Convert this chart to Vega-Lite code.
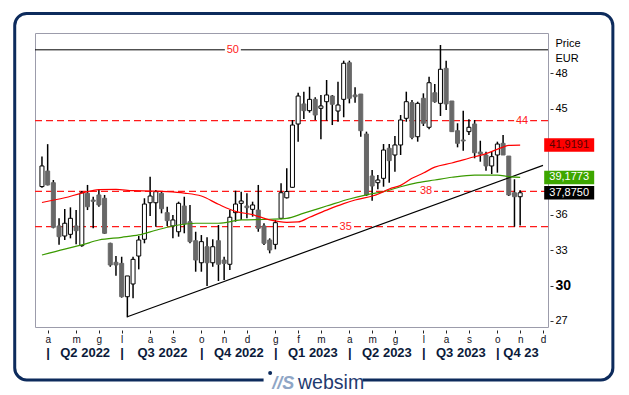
{
  "$schema": "https://vega.github.io/schema/vega-lite/v6.json",
  "width": 513,
  "height": 294,
  "autosize": {"type": "none"},
  "padding": {"left": 35, "top": 33, "right": 81, "bottom": 68},
  "background": "white",
  "config": {
    "font": "Liberation Sans",
    "view": {"stroke": "#9c9cab", "strokeWidth": 1},
    "axis": {"grid": false}
  },
  "datasets": {
    "candles": [
      {"d":"2022-03-25","o":38.4,"h":40.95,"l":38.3,"c":40.15},
      {"d":"2022-04-01","o":39.72,"h":42.0,"l":38.5,"c":38.54},
      {"d":"2022-04-08","o":38.73,"h":38.96,"l":34.86,"c":34.95},
      {"d":"2022-04-15","o":35.06,"h":35.71,"l":33.47,"c":34.15},
      {"d":"2022-04-22","o":34.21,"h":36.5,"l":33.87,"c":35.29},
      {"d":"2022-04-29","o":34.35,"h":36.64,"l":34.01,"c":35.71},
      {"d":"2022-05-06","o":35.06,"h":36.41,"l":33.5,"c":34.66},
      {"d":"2022-05-13","o":33.39,"h":38.03,"l":33.3,"c":37.88},
      {"d":"2022-05-20","o":37.83,"h":38.54,"l":36.41,"c":36.69},
      {"d":"2022-05-27","o":37.26,"h":37.54,"l":34.86,"c":37.15},
      {"d":"2022-06-03","o":37.69,"h":38.17,"l":36.69,"c":36.84},
      {"d":"2022-06-10","o":37.41,"h":37.69,"l":34.38,"c":34.44},
      {"d":"2022-06-17","o":33.59,"h":33.64,"l":31.6,"c":31.75},
      {"d":"2022-06-24","o":31.98,"h":32.51,"l":30.84,"c":31.75},
      {"d":"2022-07-01","o":31.89,"h":32.45,"l":28.98,"c":29.06},
      {"d":"2022-07-08","o":29.06,"h":30.82,"l":27.31,"c":30.82},
      {"d":"2022-07-15","o":30.14,"h":32.45,"l":28.92,"c":32.23},
      {"d":"2022-07-22","o":32.51,"h":34.21,"l":31.38,"c":33.87},
      {"d":"2022-07-29","o":33.93,"h":37.41,"l":33.59,"c":36.92},
      {"d":"2022-08-05","o":37.03,"h":39.24,"l":35.91,"c":37.6},
      {"d":"2022-08-12","o":37.03,"h":38.11,"l":35.0,"c":37.97},
      {"d":"2022-08-19","o":37.83,"h":37.97,"l":36.13,"c":36.52},
      {"d":"2022-08-26","o":36.19,"h":36.69,"l":35.06,"c":35.51},
      {"d":"2022-09-02","o":35.06,"h":35.99,"l":34.01,"c":35.57},
      {"d":"2022-09-09","o":34.57,"h":37.12,"l":34.15,"c":36.98},
      {"d":"2022-09-16","o":36.75,"h":37.54,"l":34.44,"c":35.23},
      {"d":"2022-09-23","o":35.42,"h":36.84,"l":33.59,"c":33.73},
      {"d":"2022-09-30","o":33.81,"h":34.57,"l":31.18,"c":32.17},
      {"d":"2022-10-07","o":31.94,"h":34.29,"l":31.18,"c":33.73},
      {"d":"2022-10-14","o":33.3,"h":34.1,"l":29.97,"c":31.94},
      {"d":"2022-10-21","o":31.94,"h":33.93,"l":31.6,"c":33.3},
      {"d":"2022-10-28","o":33.81,"h":35.14,"l":30.39,"c":31.81},
      {"d":"2022-11-04","o":32.17,"h":32.45,"l":30.48,"c":31.89},
      {"d":"2022-11-11","o":31.81,"h":36.41,"l":31.33,"c":35.8},
      {"d":"2022-11-18","o":36.19,"h":38.05,"l":35.42,"c":36.92},
      {"d":"2022-11-25","o":36.98,"h":37.97,"l":35.57,"c":37.18},
      {"d":"2022-12-02","o":36.75,"h":37.83,"l":35.71,"c":36.61},
      {"d":"2022-12-09","o":36.47,"h":37.12,"l":35.85,"c":36.84},
      {"d":"2022-12-16","o":36.41,"h":38.54,"l":34.57,"c":34.86},
      {"d":"2022-12-23","o":35.06,"h":35.29,"l":33.45,"c":33.59},
      {"d":"2022-12-30","o":33.87,"h":34.01,"l":32.74,"c":33.02},
      {"d":"2023-01-06","o":33.5,"h":35.57,"l":33.08,"c":35.34},
      {"d":"2023-01-13","o":35.71,"h":38.68,"l":35.63,"c":37.88},
      {"d":"2023-01-20","o":37.45,"h":39.95,"l":37.4,"c":37.98},
      {"d":"2023-01-27","o":38.34,"h":44.05,"l":38.3,"c":43.62},
      {"d":"2023-02-03","o":43.71,"h":46.36,"l":42.21,"c":46.08},
      {"d":"2023-02-10","o":45.41,"h":46.45,"l":44.13,"c":44.84},
      {"d":"2023-02-17","o":44.84,"h":46.87,"l":44.67,"c":45.8},
      {"d":"2023-02-24","o":45.8,"h":45.97,"l":44.05,"c":44.47},
      {"d":"2023-03-03","o":45.04,"h":46.17,"l":42.41,"c":45.24},
      {"d":"2023-03-10","o":45.6,"h":47.44,"l":43.99,"c":46.17},
      {"d":"2023-03-17","o":46.08,"h":46.17,"l":43.62,"c":45.38},
      {"d":"2023-03-24","o":44.81,"h":47.3,"l":43.9,"c":45.32},
      {"d":"2023-03-31","o":45.8,"h":49.08,"l":44.28,"c":48.86},
      {"d":"2023-04-07","o":48.91,"h":49.08,"l":45.46,"c":45.89},
      {"d":"2023-04-14","o":46.17,"h":46.82,"l":45.52,"c":46.02},
      {"d":"2023-04-21","o":46.25,"h":46.25,"l":42.63,"c":43.14},
      {"d":"2023-04-28","o":42.86,"h":43.06,"l":37.6,"c":37.69},
      {"d":"2023-05-05","o":39.3,"h":39.81,"l":37.2,"c":38.45},
      {"d":"2023-05-12","o":38.73,"h":39.38,"l":38.17,"c":38.96},
      {"d":"2023-05-19","o":39.1,"h":42.01,"l":38.39,"c":41.5},
      {"d":"2023-05-26","o":41.65,"h":42.01,"l":38.73,"c":40.6},
      {"d":"2023-06-02","o":41.08,"h":42.69,"l":39.66,"c":41.93},
      {"d":"2023-06-09","o":41.93,"h":44.47,"l":41.08,"c":44.05},
      {"d":"2023-06-16","o":44.19,"h":46.45,"l":43.9,"c":45.6},
      {"d":"2023-06-23","o":45.52,"h":45.74,"l":42.41,"c":42.58},
      {"d":"2023-06-30","o":42.63,"h":45.6,"l":42.21,"c":45.46},
      {"d":"2023-07-07","o":45.89,"h":46.31,"l":43.54,"c":43.77},
      {"d":"2023-07-14","o":43.43,"h":47.72,"l":43.26,"c":47.21},
      {"d":"2023-07-21","o":46.36,"h":47.1,"l":45.52,"c":45.6},
      {"d":"2023-07-28","o":45.46,"h":50.41,"l":44.39,"c":48.35},
      {"d":"2023-08-04","o":48.43,"h":49.08,"l":44.9,"c":45.41},
      {"d":"2023-08-11","o":45.66,"h":45.66,"l":43.06,"c":43.06},
      {"d":"2023-08-18","o":43.14,"h":43.77,"l":41.73,"c":42.07},
      {"d":"2023-08-25","o":42.35,"h":44.84,"l":41.44,"c":42.27},
      {"d":"2023-09-01","o":43.06,"h":44.11,"l":42.78,"c":43.43},
      {"d":"2023-09-08","o":43.71,"h":44.05,"l":40.8,"c":41.27},
      {"d":"2023-09-15","o":41.33,"h":42.29,"l":40.51,"c":41.16},
      {"d":"2023-09-22","o":41.08,"h":41.36,"l":39.75,"c":40.15},
      {"d":"2023-09-29","o":40.15,"h":41.36,"l":39.47,"c":40.94},
      {"d":"2023-10-06","o":41.08,"h":42.21,"l":39.58,"c":42.01},
      {"d":"2023-10-13","o":42.07,"h":42.78,"l":41.08,"c":41.08},
      {"d":"2023-10-20","o":40.99,"h":40.99,"l":37.6,"c":37.69},
      {"d":"2023-10-27","o":37.88,"h":39.02,"l":35.0,"c":37.54},
      {"d":"2023-11-03","o":37.54,"h":38.1,"l":35.1,"c":37.875}
    ],
    "ma": [
      {"d":"2022-03-25","s":"red","v":37.05},
      {"d":"2022-04-22","s":"red","v":37.45},
      {"d":"2022-05-13","s":"red","v":37.85},
      {"d":"2022-06-03","s":"red","v":38.15},
      {"d":"2022-06-24","s":"red","v":38.17},
      {"d":"2022-07-15","s":"red","v":38.05},
      {"d":"2022-08-05","s":"red","v":38.02},
      {"d":"2022-08-26","s":"red","v":37.97},
      {"d":"2022-09-16","s":"red","v":37.85},
      {"d":"2022-10-07","s":"red","v":37.6},
      {"d":"2022-10-28","s":"red","v":36.9},
      {"d":"2022-11-18","s":"red","v":36.3},
      {"d":"2022-12-09","s":"red","v":36.02},
      {"d":"2022-12-30","s":"red","v":35.57},
      {"d":"2023-01-20","s":"red","v":35.36},
      {"d":"2023-02-03","s":"red","v":35.4},
      {"d":"2023-02-17","s":"red","v":35.8},
      {"d":"2023-03-10","s":"red","v":36.4},
      {"d":"2023-03-31","s":"red","v":36.95},
      {"d":"2023-04-14","s":"red","v":37.26},
      {"d":"2023-05-12","s":"red","v":37.75},
      {"d":"2023-05-26","s":"red","v":38.2},
      {"d":"2023-06-09","s":"red","v":38.5},
      {"d":"2023-06-23","s":"red","v":39.1},
      {"d":"2023-07-07","s":"red","v":39.55},
      {"d":"2023-07-21","s":"red","v":40.05},
      {"d":"2023-08-11","s":"red","v":40.4},
      {"d":"2023-09-01","s":"red","v":40.8},
      {"d":"2023-09-22","s":"red","v":41.2},
      {"d":"2023-10-13","s":"red","v":41.75},
      {"d":"2023-10-20","s":"red","v":41.9},
      {"d":"2023-11-03","s":"red","v":41.92},
      {"d":"2022-03-25","s":"green","v":32.6},
      {"d":"2022-04-22","s":"green","v":33.1},
      {"d":"2022-05-13","s":"green","v":33.45},
      {"d":"2022-06-03","s":"green","v":33.87},
      {"d":"2022-07-01","s":"green","v":34.1},
      {"d":"2022-07-22","s":"green","v":34.3},
      {"d":"2022-08-12","s":"green","v":34.7},
      {"d":"2022-08-26","s":"green","v":34.95},
      {"d":"2022-09-09","s":"green","v":35.14},
      {"d":"2022-09-30","s":"green","v":35.29},
      {"d":"2022-10-28","s":"green","v":35.29},
      {"d":"2022-11-25","s":"green","v":35.57},
      {"d":"2022-12-30","s":"green","v":35.63},
      {"d":"2023-01-20","s":"green","v":35.71},
      {"d":"2023-02-10","s":"green","v":36.15},
      {"d":"2023-03-10","s":"green","v":36.75},
      {"d":"2023-04-07","s":"green","v":37.35},
      {"d":"2023-04-28","s":"green","v":37.7},
      {"d":"2023-05-19","s":"green","v":37.97},
      {"d":"2023-06-09","s":"green","v":38.39},
      {"d":"2023-06-30","s":"green","v":38.73},
      {"d":"2023-07-21","s":"green","v":38.96},
      {"d":"2023-08-11","s":"green","v":39.19},
      {"d":"2023-09-08","s":"green","v":39.38},
      {"d":"2023-10-06","s":"green","v":39.38},
      {"d":"2023-10-20","s":"green","v":39.24},
      {"d":"2023-11-03","s":"green","v":39.18}
    ],
    "trend": [
      {"d":"2022-07-08","v":27.36},
      {"d":"2023-12-01T02:00:00Z","v":40.2}
    ],
    "levels": [{"level":44},{"level":38},{"level":35}],
    "last": [
      {"t":"41,9191","v":41.9191},
      {"t":"39,1773","v":39.1773},
      {"t":"37,8750","v":37.875}
    ]
  },
  "layer": [
    {
      "data": {"values": [{}]},
      "mark": {"type": "rect", "fill": "white", "fillOpacity": 0, "stroke": "#0d2b5c", "strokeWidth": 3, "cornerRadius": 12, "clip": false},
      "encoding": {
        "x": {"datum": {"year":2022,"month":2,"date":19,"hours":12,"utc":true}, "type":"temporal", "axis": null},
        "x2": {"datum": {"year":2024,"month":2,"date":25,"utc":true}},
        "y": {"datum": 53.08, "type":"quantitative", "axis": null},
        "y2": {"datum": 22.0}
      }
    },
    {
      "data": {"name": "levels"},
      "mark": {"type": "rule", "color": "#ff1a1a", "strokeWidth": 1.3, "strokeDash": [7, 4]},
      "encoding": {
        "y": {"field": "level", "type": "quantitative",
          "scale": {"domain": [26.491, 51.427], "nice": false, "zero": false},
          "axis": {"orient": "right", "values": [27,30,33,36,45,48], "offset": 2, "domain": false, "tickSize": 3, "tickColor": "#333333",
            "labelPadding": 2, "labelColor": "#000000",
            "labelFontSize": {"condition": {"test": "datum.value == 30", "value": 14}, "value": 11},
            "labelFontWeight": {"condition": {"test": "datum.value == 30", "value": "bold"}, "value": "normal"},
            "title": ["Price", "EUR"], "titleAngle": 0, "titleAlign": "left", "titleBaseline": "alphabetic", "titleX": 5, "titleY": 13,
            "titleFontSize": 11, "titleFontWeight": "normal", "titleLineHeight": 15, "titleColor": "#000000"}
        }
      }
    },
    {
      "data": {"name": "candles"},
      "mark": {"type": "rule", "color": "black", "strokeWidth": 1.5},
      "encoding": {
        "x": {"field": "d", "type": "temporal",
          "scale": {"domain": [{"year":2022,"month":3,"date":22,"hours":14,"utc":true},{"year":2023,"month":12,"date":1,"hours":2,"utc":true}], "nice": false},
          "axis": {"orient": "bottom", "title": null, "domain": false, "offset": 3, "tickSize": 3, "tickColor": "#222222", "labelPadding": 1, "labelFontSize": 10, "labelColor": "#111122", "labelOverlap": false, "labelBound": false, "labelFlush": false,
            "values": [
              {"year":2022,"month":4,"date":1,"utc":true},{"year":2022,"month":5,"date":6,"utc":true},{"year":2022,"month":6,"date":3,"utc":true},
              {"year":2022,"month":7,"date":1,"utc":true},{"year":2022,"month":8,"date":5,"utc":true},{"year":2022,"month":9,"date":2,"utc":true},
              {"year":2022,"month":10,"date":7,"utc":true},{"year":2022,"month":11,"date":4,"utc":true},{"year":2022,"month":12,"date":2,"utc":true},
              {"year":2023,"month":1,"date":6,"utc":true},{"year":2023,"month":2,"date":3,"utc":true},{"year":2023,"month":3,"date":3,"utc":true},
              {"year":2023,"month":4,"date":7,"utc":true},{"year":2023,"month":5,"date":5,"utc":true},{"year":2023,"month":6,"date":2,"utc":true},
              {"year":2023,"month":7,"date":7,"utc":true},{"year":2023,"month":8,"date":4,"utc":true},{"year":2023,"month":9,"date":1,"utc":true},
              {"year":2023,"month":10,"date":6,"utc":true},{"year":2023,"month":11,"date":3,"utc":true},{"year":2023,"month":12,"date":1,"utc":true}
            ],
            "labelExpr": "['g','f','m','a','m','g','l','a','s','o','n','d'][utcmonth(datum.value)]"
          }
        },
        "y": {"field": "l", "type": "quantitative", "axis": null},
        "y2": {"field": "h"}
      }
    },
    {
      "data": {"name": "candles"},
      "mark": {"type": "bar", "width": 4, "strokeWidth": 1},
      "encoding": {
        "x": {"field": "d", "type": "temporal",
          "axis": {"orient": "bottom", "title": null, "domain": false, "ticks": false, "labelPadding": 19, "labelFontSize": 13, "labelFontWeight": "bold", "labelColor": "#0b1a3a", "labelOverlap": false, "labelBound": false, "labelFlush": false,
            "values": [
              {"year":2022,"month":4,"date":1,"utc":true},{"year":2022,"month":7,"date":1,"utc":true},{"year":2022,"month":10,"date":7,"utc":true},
              {"year":2023,"month":1,"date":6,"utc":true},{"year":2023,"month":4,"date":7,"utc":true},{"year":2023,"month":7,"date":7,"utc":true},
              {"year":2023,"month":10,"date":6,"utc":true},
              {"year":2022,"month":5,"date":16,"hours":12,"utc":true},{"year":2022,"month":8,"date":19,"hours":12,"utc":true},
              {"year":2022,"month":11,"date":21,"hours":12,"utc":true},{"year":2023,"month":2,"date":20,"hours":12,"utc":true},
              {"year":2023,"month":5,"date":22,"hours":12,"utc":true},{"year":2023,"month":8,"date":21,"hours":12,"utc":true},
              {"year":2023,"month":11,"date":3,"hours":12,"utc":true}
            ],
            "labelExpr": "utchours(datum.value) == 0 ? '|' : ((utcyear(datum.value) == 2023 && utcmonth(datum.value) >= 9) ? 'Q4 23' : 'Q' + (floor(utcmonth(datum.value) / 3) + 1) + ' ' + utcyear(datum.value))"
          }
        },
        "y": {"field": "o", "type": "quantitative", "axis": null},
        "y2": {"field": "c"},
        "fill": {"condition": {"test": "datum.c > datum.o", "value": "white"}, "value": "#686868"},
        "stroke": {"condition": {"test": "datum.c > datum.o", "value": "black"}, "value": "#686868"}
      }
    },
    {
      "data": {"values": [{}]},
      "mark": {"type": "rule", "color": "black", "strokeWidth": 1},
      "encoding": {"y": {"datum": 50, "type": "quantitative", "axis": null}}
    },
    {
      "data": {"name": "trend"},
      "mark": {"type": "line", "color": "black", "strokeWidth": 1.2},
      "encoding": {
        "x": {"field": "d", "type": "temporal", "axis": null},
        "y": {"field": "v", "type": "quantitative", "axis": null}
      }
    },
    {
      "data": {"name": "ma"},
      "transform": [{"filter": "datum.s == 'green'"}],
      "mark": {"type": "line", "color": "#3a9a00", "strokeWidth": 1.2, "interpolate": "monotone"},
      "encoding": {
        "x": {"field": "d", "type": "temporal", "axis": null},
        "y": {"field": "v", "type": "quantitative", "axis": null}
      }
    },
    {
      "data": {"name": "ma"},
      "transform": [{"filter": "datum.s == 'red'"}],
      "mark": {"type": "line", "color": "#ff0000", "strokeWidth": 1.2, "interpolate": "monotone"},
      "encoding": {
        "x": {"field": "d", "type": "temporal", "axis": null},
        "y": {"field": "v", "type": "quantitative", "axis": null}
      }
    },
    {
      "data": {"values": [{}]},
      "mark": {"type": "tick", "orient": "horizontal", "size": 16, "thickness": 9, "color": "white", "opacity": 1},
      "encoding": {
        "x": {"datum": {"year":2022,"month":11,"date":14,"hours":17,"utc":true}, "type": "temporal", "axis": null},
        "y": {"datum": 50, "type": "quantitative", "axis": null}
      }
    },
    {
      "data": {"values": [{}]},
      "mark": {"type": "text", "text": "50", "color": "#ff1a1a", "fontSize": 11, "align": "center", "baseline": "middle"},
      "encoding": {
        "x": {"datum": {"year":2022,"month":11,"date":14,"hours":17,"utc":true}, "type": "temporal", "axis": null},
        "y": {"datum": 50, "type": "quantitative", "axis": null}
      }
    },
    {
      "data": {"values": [{}]},
      "mark": {"type": "tick", "orient": "horizontal", "size": 16, "thickness": 9, "color": "white", "opacity": 1},
      "encoding": {
        "x": {"datum": {"year":2023,"month":11,"date":5,"hours":10,"utc":true}, "type": "temporal", "axis": null},
        "y": {"datum": 44, "type": "quantitative", "axis": null}
      }
    },
    {
      "data": {"values": [{}]},
      "mark": {"type": "text", "text": "44", "color": "#ff1a1a", "fontSize": 11, "align": "center", "baseline": "middle"},
      "encoding": {
        "x": {"datum": {"year":2023,"month":11,"date":5,"hours":10,"utc":true}, "type": "temporal", "axis": null},
        "y": {"datum": 44, "type": "quantitative", "axis": null}
      }
    },
    {
      "data": {"values": [{}]},
      "mark": {"type": "tick", "orient": "horizontal", "size": 16, "thickness": 9, "color": "white", "opacity": 1},
      "encoding": {
        "x": {"datum": {"year":2023,"month":7,"date":10,"hours":7,"utc":true}, "type": "temporal", "axis": null},
        "y": {"datum": 38, "type": "quantitative", "axis": null}
      }
    },
    {
      "data": {"values": [{}]},
      "mark": {"type": "text", "text": "38", "color": "#ff1a1a", "fontSize": 11, "align": "center", "baseline": "middle"},
      "encoding": {
        "x": {"datum": {"year":2023,"month":7,"date":10,"hours":7,"utc":true}, "type": "temporal", "axis": null},
        "y": {"datum": 38, "type": "quantitative", "axis": null}
      }
    },
    {
      "data": {"values": [{}]},
      "mark": {"type": "tick", "orient": "horizontal", "size": 16, "thickness": 9, "color": "white", "opacity": 1},
      "encoding": {
        "x": {"datum": {"year":2023,"month":4,"date":2,"hours":10,"utc":true}, "type": "temporal", "axis": null},
        "y": {"datum": 35, "type": "quantitative", "axis": null}
      }
    },
    {
      "data": {"values": [{}]},
      "mark": {"type": "text", "text": "35", "color": "#ff1a1a", "fontSize": 11, "align": "center", "baseline": "middle"},
      "encoding": {
        "x": {"datum": {"year":2023,"month":4,"date":2,"hours":10,"utc":true}, "type": "temporal", "axis": null},
        "y": {"datum": 35, "type": "quantitative", "axis": null}
      }
    },
    {
      "data": {"name": "last"},
      "mark": {"type": "tick", "orient": "horizontal", "size": 50, "thickness": 13.5, "opacity": 1, "clip": false},
      "encoding": {
        "x": {"datum": {"year":2024,"month":1,"date":2,"hours":7,"utc":true}, "type": "temporal", "axis": null},
        "y": {"field": "v", "type": "quantitative", "axis": null},
        "color": {"field": "t", "type": "nominal", "legend": null,
          "scale": {"domain": ["41,9191","39,1773","37,8750"], "range": ["#ff0000","#3da600","#000000"]}}
      }
    },
    {
      "data": {"name": "last"},
      "mark": {"type": "text", "fontSize": 11, "align": "center", "baseline": "middle", "clip": false},
      "encoding": {
        "x": {"datum": {"year":2024,"month":1,"date":2,"hours":7,"utc":true}, "type": "temporal", "axis": null},
        "y": {"field": "v", "type": "quantitative", "axis": null},
        "text": {"field": "t"},
        "fontWeight": {"condition": {"test": "datum.t == '37,8750'", "value": "bold"}, "value": "normal"},
        "fill": {"condition": {"test": "datum.t == '41,9191'", "value": "#5a0000"}, "value": "#ffffff"}
      }
    },
    {
      "data": {"values": [{}]},
      "mark": {"type": "rect", "fill": "white", "clip": false},
      "encoding": {
        "x": {"datum": {"year":2022,"month":12,"date":22,"hours":12,"utc":true}, "type": "temporal", "axis": null},
        "x2": {"datum": {"year":2023,"month":4,"date":23,"hours":2,"utc":true}},
        "y": {"datum": 22.34, "type": "quantitative", "axis": null},
        "y2": {"datum": 21.58}
      }
    },
    {
      "data": {"values": [{}]},
      "mark": {"type": "text", "text": "//S", "fontSize": 18, "fontStyle": "italic", "fontWeight": "bold", "color": "#8fa6c6", "align": "center", "baseline": "alphabetic", "clip": false},
      "encoding": {
        "x": {"datum": {"year":2023,"month":1,"date":15,"hours":14,"utc":true}, "type": "temporal", "axis": null},
        "y": {"datum": 21.19, "type": "quantitative", "axis": null}
      }
    },
    {
      "data": {"values": [{}]},
      "mark": {"type": "circle", "size": 16, "color": "#0d2b5c", "opacity": 1, "clip": false},
      "encoding": {
        "x": {"datum": {"year":2022,"month":12,"date":30,"hours":14,"utc":true}, "type": "temporal", "axis": null},
        "y": {"datum": 22.59, "type": "quantitative", "axis": null}
      }
    },
    {
      "data": {"values": [{}]},
      "mark": {"type": "text", "text": "websim", "fontSize": 19.5, "color": "#1f3b70", "align": "center", "baseline": "alphabetic", "clip": false},
      "encoding": {
        "x": {"datum": {"year":2023,"month":3,"date":15,"hours":12,"utc":true}, "type": "temporal", "axis": null},
        "y": {"datum": 21.19, "type": "quantitative", "axis": null}
      }
    }
  ],
  "resolve": {"axis": {"x": "independent", "y": "independent"}}
}
